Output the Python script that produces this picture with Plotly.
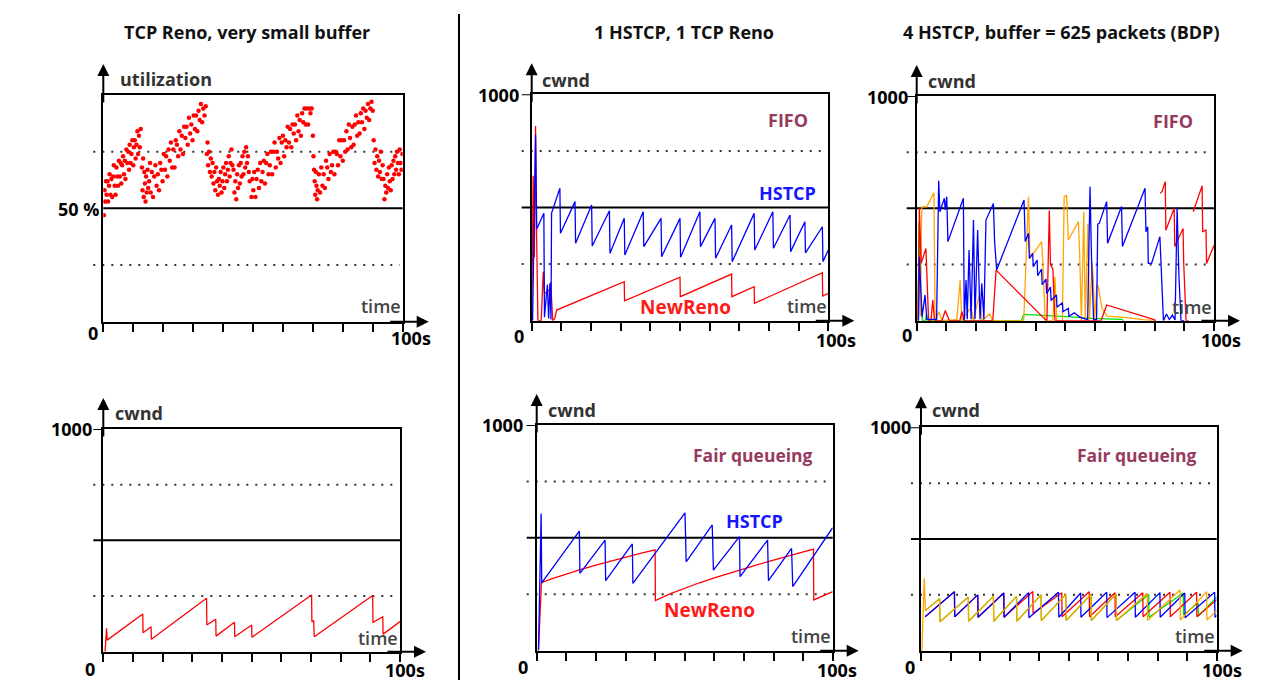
import plotly.graph_objects as go

W, H = 1272, 683

# ---------------- data ----------------
# Panel 1: TCP Reno, very small buffer - utilisation (%) over time (s)
util_t = [0.2, 0.4, 0.6, 0.9, 1.1, 1.4, 1.6, 1.9, 2.1, 2.4, 2.7, 3.0, 3.3, 3.5, 3.8, 4.1, 4.4, 4.6, 4.9, 5.2,
          5.5, 5.8, 6.0, 6.3, 6.6, 6.9, 7.2, 7.4, 7.7, 8.0, 8.3, 8.6, 8.8, 9.1, 9.4, 9.7, 10.0, 10.2, 10.5, 10.8,
          11.1, 11.4, 11.6, 11.9, 12.2, 12.5,
          12.9, 13.1, 13.3, 13.5, 13.7, 13.9, 14.1, 14.3, 14.5, 14.8, 15.0, 15.3, 15.6,
          15.8, 16.2, 16.6, 17.0, 17.4, 17.8, 18.2, 18.6, 19.0, 19.4, 19.8, 20.2, 20.6, 21.0, 21.4, 21.8, 22.2,
          22.6, 23.0, 23.4, 23.8, 24.2, 24.6, 25.0, 25.4, 25.8, 26.2, 26.6, 27.0, 27.4, 27.8, 28.2, 28.6, 29.0,
          29.4, 29.8, 30.2, 30.6, 31.0, 31.4, 31.8, 32.2, 32.6, 33.0, 33.4, 33.8, 34.2,
          34.6, 34.8, 35.0, 35.3, 35.6, 35.9, 36.2, 36.5, 36.8, 37.1, 37.4, 37.7, 38.0, 38.3, 38.6, 38.9, 39.2,
          39.5, 39.8, 40.1, 40.4, 40.7, 41.0, 41.3, 41.6, 41.9, 42.2, 42.5, 42.8, 43.1,
          43.5, 43.8, 44.1, 44.4, 44.7, 45.0, 45.3, 45.6, 45.9, 46.2, 46.5, 46.8, 47.1, 47.4, 47.7, 48.0, 48.3,
          48.6, 48.9,
          49.5, 49.8, 50.1, 50.4, 50.8, 51.2, 51.6, 52.0, 52.4, 52.8, 53.2, 53.6, 54.0, 54.4, 54.8, 55.2, 55.6,
          56.0, 56.4, 56.8, 57.2, 57.6, 58.0, 58.4, 58.8, 59.2, 59.6, 60.0, 60.4, 60.8, 61.2, 61.6, 62.0, 62.4,
          62.8, 63.2, 63.6, 64.0, 64.4, 64.8, 65.2, 65.6, 66.0, 66.4, 66.8, 67.2, 67.6, 68.0, 68.4, 68.8, 69.2, 69.6,
          70.0, 70.2, 70.4, 70.6, 70.8, 71.0, 71.2, 71.4,
          71.6, 72.0, 72.4, 72.8, 73.2, 73.6, 74.0, 74.4, 74.8, 75.2, 75.6, 76.0, 76.4, 76.8, 77.2, 77.6, 78.0,
          78.4, 78.8, 79.2, 79.6, 80.0, 80.4, 80.8, 81.2, 81.6, 82.0, 82.4, 82.8, 83.2, 83.6, 84.0, 84.4, 84.8,
          85.2, 85.6, 86.0, 86.4, 86.8, 87.2, 87.6, 88.0, 88.4, 88.8, 89.2, 89.6, 90.0,
          90.3, 90.6, 90.9, 91.2, 91.5, 91.8, 92.1, 92.4, 92.7, 93.0, 93.3,
          93.6, 93.9, 94.2, 94.5, 94.8, 95.1, 95.4, 95.7, 96.0, 96.3, 96.6, 96.9, 97.2, 97.5, 97.8, 98.1, 98.4,
          98.7, 99.0, 99.3, 99.6, 99.9]
util_pct = [47, 58, 53, 62, 56, 62, 53, 60, 65, 56, 63, 55, 64, 69, 60, 56, 68, 64, 60, 71,
            64, 70, 61, 69, 73, 65, 71, 63, 76, 70, 75, 67, 78, 70, 74, 80, 69, 77, 80, 72,
            78, 84, 74, 82, 77, 85,
            68, 58, 72, 55, 66, 61, 53, 64, 57, 67, 59, 62, 70,
            57, 66, 55, 64, 69, 60, 65, 58, 70, 67, 62, 74, 67, 73, 64, 76, 71,
            79, 68, 76, 68, 80, 78, 73, 84, 76, 82, 74, 86, 81, 86, 78, 90, 83,
            87, 80, 91, 85, 91, 84, 93, 89, 96, 88, 94, 91, 95,
            74, 79, 69, 75, 66, 72, 64, 70, 61, 66, 58, 68, 62, 56, 63, 60, 66,
            57, 62, 68, 59, 65, 70, 62, 67, 73, 64, 70, 76, 69,
            67, 57, 62, 54, 65, 59, 69, 61, 70, 64, 73, 65, 75, 68, 77, 70, 73,
            66, 62,
            55, 63, 58, 66, 55, 63, 67, 59, 70, 62, 66, 71, 61, 70, 74, 65, 69,
            75, 65, 75, 79, 68, 75, 72, 81, 70, 79, 82, 73, 80, 77, 86, 79, 85,
            77, 87, 83, 87, 80, 91, 84, 89, 82, 92, 88, 94, 87, 94, 87, 94, 92, 94,
            82, 73, 67, 62, 56, 66, 60, 54,
            58, 65, 57, 68, 60, 65, 59, 71, 68, 63, 74, 66, 69, 75, 65, 75, 74,
            69, 80, 73, 80, 71, 80, 75, 84, 76, 87, 81, 77, 86, 78, 87, 91, 82,
            88, 83, 92, 88, 94, 85, 93, 90, 96, 89, 94, 97, 93,
            80, 70, 76, 67, 73, 64, 71, 66, 75, 63, 69,
            63, 54, 60, 57, 65, 59, 68, 62, 58, 69, 63, 71, 65, 73, 67, 75, 70,
            65, 76, 70, 67, 74]

# Panel 4: TCP Reno cwnd, very small buffer
reno_small = [(0.6, 0), (1.1, 105), (1.3, 52), (13.3, 169), (13.4, 85), (16.1, 112), (16.2, 56),
              (34.8, 240), (34.9, 120), (37.9, 146), (38.0, 70), (44.2, 132), (44.3, 67), (50.0, 120),
              (50.1, 65), (70.2, 255), (70.3, 135), (70.9, 140), (71.1, 67), (90.8, 252), (90.9, 132),
              (94.2, 157), (94.3, 79), (100, 135)]

# Panel 2: 1 HSTCP + 1 Reno, FIFO
fifo_hstcp = [(0.3, 0), (1.3, 820), (1.7, 405), (4.1, 475), (4.3, 15), (5.3, 160), (5.7, 10), (6.2, 165),
              (6.5, 5), (6.7, 475), (9.5, 585), (9.7, 386), (14.6, 526), (14.8, 342), (20.2, 511),
              (20.4, 330), (26.2, 486), (26.4, 298), (31.2, 452), (31.4, 290), (37.6, 481), (37.8, 327),
              (43.6, 452), (43.8, 283), (50.0, 452), (50.2, 280), (56.7, 481), (56.9, 327), (61.8, 452),
              (62.0, 276), (67.4, 423), (67.6, 261), (75.0, 474), (75.2, 312), (81.3, 481), (81.5, 320),
              (87.1, 467), (87.3, 305), (92.1, 437), (92.3, 300), (98.0, 415), (98.2, 261), (100, 312)]
fifo_reno = [(0.0, 0), (0.5, 640), (0.9, 280), (1.3, 860), (1.6, 420), (2.1, 0), (3.2, 0), (3.9, 216),
             (4.3, 120), (6.0, 135), (6.4, 170), (7.1, 0), (7.8, 10), (8.4, 47), (31.2, 172), (31.3, 88),
             (50.0, 192), (50.1, 106), (67.4, 206), (67.5, 106), (75.0, 150), (75.1, 77), (98.0, 212),
             (98.1, 109), (100, 121)]

# Panel 5: 1 HSTCP + 1 Reno, fair queueing
fq_hstcp = [(0.6, 3), (1.5, 608), (1.7, 301), (14.4, 530), (14.6, 343), (23.1, 490), (23.3, 310),
            (32.3, 473), (32.5, 298), (50.1, 611), (50.5, 394), (59.3, 557), (59.7, 357), (68.5, 505),
            (68.7, 328), (78.0, 490), (78.3, 310), (86.1, 453), (86.5, 284), (100, 545)]
fq_reno = [(0.6, 0), (1.6, 301), (5, 318), (10, 340), (15, 360), (20, 379), (25, 397), (30, 414),
           (35, 431), (40.0, 447), (40.1, 222), (45, 252), (50, 278), (55, 301), (60, 323), (65, 344),
           (70, 364), (75, 383), (80, 401), (85, 419), (90, 437), (93.5, 450), (93.6, 225), (96, 240),
           (100, 262)]

# Panel 3: 4 HSTCP, FIFO, buffer = BDP
fifo4_blue = [(0.6, 0), (0.9, 285), (1.3, 166), (1.8, 18), (2.8, 114), (3.4, 6), (6.7, 6), (7.4, 623),
              (7.8, 485), (9.3, 545), (9.6, 493), (10.1, 552), (10.5, 352), (15.7, 545), (16.0, 0),
              (16.6, 181), (17.0, 6), (17.6, 315), (18.3, 6), (19.1, 448), (19.6, 6), (20.5, 404),
              (21.3, 6), (21.9, 166), (22.6, 6), (23.3, 448), (25.8, 522), (26.2, 352), (26.9, 226),
              (36.1, 537), (36.5, 352), (37.6, 389), (37.9, 277), (39.0, 300), (39.2, 240), (40.5, 270),
              (40.7, 200), (42.0, 230), (42.2, 160), (43.5, 185), (43.7, 120), (45.0, 150), (45.2, 90),
              (47.0, 115), (47.2, 60), (49.0, 80), (49.2, 40), (51.0, 55), (51.2, 20), (53.0, 35),
              (55.0, 15), (57.5, 5), (58.3, 596), (58.8, 280), (59.5, 5), (60.5, 5), (60.9, 430),
              (61.4, 433), (63.9, 530), (64.2, 345), (68.9, 508), (69.2, 330), (76.8, 589), (77.1, 396),
              (77.7, 418), (77.9, 255), (79.0, 255), (81.8, 374), (83.0, 0), (84.0, 30), (85.0, 5),
              (86.0, 25), (86.9, 3), (87.6, 505), (88.2, 200), (88.9, 0), (90.0, 0)]
fifo4_red = [(0.5, 0), (0.9, 500), (1.5, 255), (3.1, 321), (4.0, 0), (4.8, 0), (5.4, 92), (6.0, 0),
             (8.5, 0), (9.6, 45), (11.0, 0), (14.5, 0), (15.2, 40), (16.0, 0), (25.6, 0), (26.7, 225),
             (43.2, 6), (43.8, 0), (44.6, 490), (45.0, 250), (45.8, 230), (46.5, 0), (62.0, 0),
             (63.2, 45), (63.9, 70), (79.6, 6), (80.5, 0), (81.0, None), (81.9, 567), (82.5, 574),
             (83.6, 619), (83.8, 403), (86.6, 500), (86.8, 330), (89.6, 410), (89.8, 260), (90.6, 0),
             (91.5, 0), (92.0, None), (93.0, 485), (96.0, 600), (96.2, 395), (97.3, 405), (97.5, 255),
             (100, 335)]
fifo4_orange = [(0.3, 0), (0.8, 290), (1.2, 20), (1.7, 507), (3.4, 507), (5.8, 570), (6.2, 0), (7.5, 40),
                (8.5, 0), (13.5, 5), (14.6, 181), (15.2, 0), (18.3, 60), (19.0, 0), (21.0, 110),
                (22.0, 0), (24.5, 30), (25.5, 0), (36.0, 0), (37.6, 552), (38.1, 277), (42.0, 352),
                (42.5, 240), (43.2, 0), (45.8, 0), (46.5, 196), (47.1, 0), (49.0, 0), (49.6, 552),
                (50.4, 559), (51.0, 359), (54.4, 441), (54.8, 300), (55.4, 0), (56.2, 485), (56.7, 0),
                (57.6, 430), (58.1, 0), (59.0, 260), (59.4, 181), (59.8, 0), (60.6, 160), (61.1, 151),
                (62.3, 55), (64.0, 20), (70.0, 15), (76.0, 5), (80.0, 0)]
fifo4_green = [(0.4, 0), (0.8, 440), (1.1, 352), (1.4, 100), (1.9, 0), (3.0, 0), (3.3, 30), (3.6, 0),
               (35.2, 0), (36.0, 28), (50.5, 18), (59.0, 10), (69.0, 6), (69.5, 0)]

# Panel 6: 4 HSTCP, fair queueing
fq4_blue = [(1.4, 152), (11.3, 264), (11.4, 152), (19.2, 250), (19.3, 150), (28.0, 258), (28.1, 150),
            (36.4, 260), (36.5, 148), (46.5, 262), (46.6, 150), (54.0, 258), (54.1, 150), (62.8, 262),
            (62.9, 148), (72.4, 262), (72.5, 150), (80.8, 260), (80.9, 150), (89.2, 258), (89.3, 148),
            (99.3, 262), (99.4, 150), (100, 158)]
fq4_red = [(1.4, 152), (11.3, 264), (11.4, 152), (19.2, 250), (19.3, 150), (28.0, 258), (28.1, 150),
           (37.8, 265), (37.9, 167), (47.6, 259), (47.7, 152), (56.9, 264), (57.0, 152), (65.6, 259),
           (65.7, 152), (75.0, 259), (75.1, 152), (84.2, 262), (84.3, 152), (93.2, 262), (93.3, 152),
           (100, 228)]
fq4_orange = [(0.3, 0), (1.1, 324), (1.5, 180), (6.3, 232), (6.4, 130), (16.0, 240), (16.1, 132),
              (24.5, 243), (24.6, 132), (32.3, 243), (32.4, 132), (40.6, 250), (40.7, 135), (49.0, 252),
              (49.1, 135), (57.5, 252), (57.6, 135), (66.0, 254), (66.1, 135), (76.5, 256), (76.6, 135),
              (87.6, 272), (87.7, 137), (96.6, 264), (96.7, 137), (100, 180)]
fq4_green = [(1.5, 180), (6.3, 232), (6.4, 130), (16.0, 240), (16.1, 132), (24.5, 243), (24.6, 132),
             (32.3, 243), (32.4, 132), (40.6, 250), (40.7, 135), (49.0, 252), (49.1, 135), (57.5, 252),
             (57.6, 135), (66.0, 254), (66.1, 135), (77.0, 252), (77.1, 150), (88.7, 258), (88.8, 160),
             (93.7, 215), (93.8, 155), (100, 240)]

column_titles = ["TCP Reno, very small buffer", "1 HSTCP, 1 TCP Reno", "4 HSTCP, buffer = 625 packets (BDP)"]

# ---------------- layout helpers ----------------
def fx(px):
    return px / W

def fy(py):
    return 1 - py / H

# pixel boxes of each plot area: left, right, top, bottom
PANELS = [
    (103.3, 402.7, 95.0, 321.7),
    (531.7, 828.3, 94.3, 320.7),
    (916.7, 1214.0, 96.0, 320.7),
    (103.3, 400.0, 429.0, 651.7),
    (536.7, 832.7, 425.0, 650.7),
    (921.0, 1216.7, 427.3, 650.7),
]
YMAX = [100, 1000, 1000, 1000, 1000, 1000]

BLUE, RED, ORANGE, GREEN = "#0000ff", "#ff0000", "#ffa500", "#00dd00"
LABEL_FONT = "Open Sans"

fig = go.Figure()
shapes = []
annotations = []


def suffix(i):
    return "" if i == 1 else str(i)


def add_line(i, pairs, color, width=1.3):
    s = suffix(i)
    xs = [p[0] for p in pairs]
    ys = [p[1] for p in pairs]
    fig.add_trace(go.Scatter(x=xs, y=ys, mode="lines", line=dict(color=color, width=width),
                             xaxis="x" + s, yaxis="y" + s, showlegend=False, hoverinfo="skip",
                             connectgaps=False))


def text(t, x, y, size, color="#111", xanchor="center", yanchor="middle", weight="bold"):
    annotations.append(dict(text=t, x=fx(x), y=fy(y), xref="paper", yref="paper", showarrow=False,
                            xanchor=xanchor, yanchor=yanchor,
                            font=dict(family=LABEL_FONT, size=size, color=color, weight=weight)))


for i, (l, r, t, b) in enumerate(PANELS, start=1):
    s = suffix(i)
    ymax = YMAX[i - 1]
    fig.update_layout(**{
        "xaxis" + s: dict(domain=[fx(l), fx(r)], range=[0, 100], anchor="y" + s, showline=True,
                          linewidth=2, linecolor="black", mirror=True, ticks="outside", ticklen=8,
                          tickwidth=2, tickcolor="black", tickvals=list(range(0, 101, 10)),
                          showticklabels=False, showgrid=False, zeroline=False, fixedrange=True),
        "yaxis" + s: dict(domain=[fy(b), fy(t)], range=[0, ymax], anchor="x" + s, showline=True,
                          linewidth=2, linecolor="black", mirror=True, ticks="", showticklabels=False,
                          showgrid=False, zeroline=False, fixedrange=True),
    })
    w, h = r - l, b - t
    ext = 10 / w
    xd, yd = "x" + s + " domain", "y" + s + " domain"
    # reference lines
    shapes.append(dict(type="line", xref=xd, yref="y" + s, x0=0 if i == 1 else -ext, x1=1,
                       y0=ymax / 2, y1=ymax / 2, line=dict(color="black", width=2), layer="below"))
    for q in (0.25, 0.75):
        shapes.append(dict(type="line", xref=xd, yref="y" + s, x0=-ext, x1=0.99,
                           y0=ymax * q, y1=ymax * q, line=dict(color="#333", width=2, dash="2px,7px"),
                           layer="below"))
    if i != 1:
        shapes.append(dict(type="line", xref=xd, yref="y" + s, x0=-ext, x1=0, y0=ymax, y1=ymax,
                           line=dict(color="black", width=2)))
    # axis arrows
    annotations.append(dict(xref=xd, yref=yd, x=0, y=1 + 31 / h, ax=0, ay=40, text="", showarrow=True,
                            arrowhead=2, arrowsize=1.2, arrowwidth=2, arrowcolor="black"))
    annotations.append(dict(xref=xd, yref=yd, x=1 + 26 / w, y=0, ax=-40, ay=0, text="", showarrow=True,
                            arrowhead=2, arrowsize=1.2, arrowwidth=2, arrowcolor="black"))

# ---------------- traces ----------------
fig.add_trace(go.Scatter(x=util_t, y=util_pct, mode="markers",
                         marker=dict(color=RED, size=4.5, symbol="circle", line=dict(width=0)),
                         xaxis="x", yaxis="y", showlegend=False, hoverinfo="skip"))
add_line(4, reno_small, RED)

add_line(2, fifo_reno, RED)
add_line(2, fifo_hstcp, BLUE)
add_line(5, fq_reno, RED)
add_line(5, fq_hstcp, BLUE)

add_line(3, fifo4_green, GREEN)
add_line(3, fifo4_orange, ORANGE)
add_line(3, fifo4_red, RED)
add_line(3, fifo4_blue, BLUE)

add_line(6, fq4_green, GREEN)
add_line(6, fq4_red, RED)
add_line(6, fq4_blue, BLUE)
add_line(6, fq4_orange, ORANGE)

# ---------------- texts ----------------
for title, cx in zip(column_titles, [247, 684, 1061]):
    text(title, cx, 32, 18, color="#111")

GRAY = "#333"
SCHED = "#963a60"
TSZ = 18    # tick-like labels
LSZ = 18    # axis names
# panel 1
text("utilization", 118, 79, LSZ, GRAY, xanchor="left")
text("50 %", 101, 209, TSZ, "#000", xanchor="right")
text("0", 93, 333, TSZ, "#000")
text("100s", 411, 338, TSZ, "#000")
text("time", 403, 306, 18, "#444", xanchor="right", weight=600)
# panel 2
text("cwnd", 540, 80, LSZ, GRAY, xanchor="left")
text("1000", 521, 95, TSZ, "#000", xanchor="right")
text("0", 519, 336, TSZ, "#000")
text("100s", 836, 340, TSZ, "#000")
text("time", 829, 306, 18, "#444", xanchor="right", weight=600)
text("FIFO", 788, 120, 18, SCHED)
text("HSTCP", 787, 193, 18, "#1515ff")
text("NewReno", 685, 307, 19, "#ff1a1a")
# panel 3
text("cwnd", 926, 81, LSZ, GRAY, xanchor="left")
text("1000", 910, 97, TSZ, "#000", xanchor="right")
text("0", 907, 335, TSZ, "#000")
text("100s", 1221, 340, TSZ, "#000")
text("time", 1214, 307, 18, "#444", xanchor="right", weight=600)
text("FIFO", 1173, 121, 18, SCHED)
# panel 4
text("cwnd", 113, 413, LSZ, GRAY, xanchor="left")
text("1000", 94, 429, TSZ, "#000", xanchor="right")
text("0", 90, 669, TSZ, "#000")
text("100s", 405, 670, TSZ, "#000")
text("time", 400, 638, 18, "#444", xanchor="right", weight=600)
# panel 5
text("cwnd", 546, 410, LSZ, GRAY, xanchor="left")
text("1000", 525, 425, TSZ, "#000", xanchor="right")
text("0", 523, 667, TSZ, "#000")
text("100s", 837, 670, TSZ, "#000")
text("time", 833, 636, 18, "#444", xanchor="right", weight=600)
text("Fair queueing", 753, 455, 17.5, SCHED)
text("HSTCP", 754, 521, 18, "#1515ff")
text("NewReno", 709, 610, 19, "#ff1a1a")
# panel 6
text("cwnd", 930, 410, LSZ, GRAY, xanchor="left")
text("1000", 913, 427, TSZ, "#000", xanchor="right")
text("0", 910, 667, TSZ, "#000")
text("100s", 1222, 670, TSZ, "#000")
text("time", 1217, 636, 18, "#444", xanchor="right", weight=600)
text("Fair queueing", 1137, 455, 17.5, SCHED)

# column separator
shapes.append(dict(type="line", xref="paper", yref="paper", x0=fx(459), x1=fx(459), y0=fy(14), y1=fy(680),
                   line=dict(color="black", width=2)))

fig.update_layout(width=W, height=H, margin=dict(l=0, r=0, t=0, b=0), paper_bgcolor="white",
                  plot_bgcolor="white", shapes=shapes, annotations=annotations,
                  font=dict(family=LABEL_FONT))

fig.write_html("out.html", config={"displayModeBar": False},
               post_script="document.body.style.margin='0';document.body.style.overflow='hidden';")
